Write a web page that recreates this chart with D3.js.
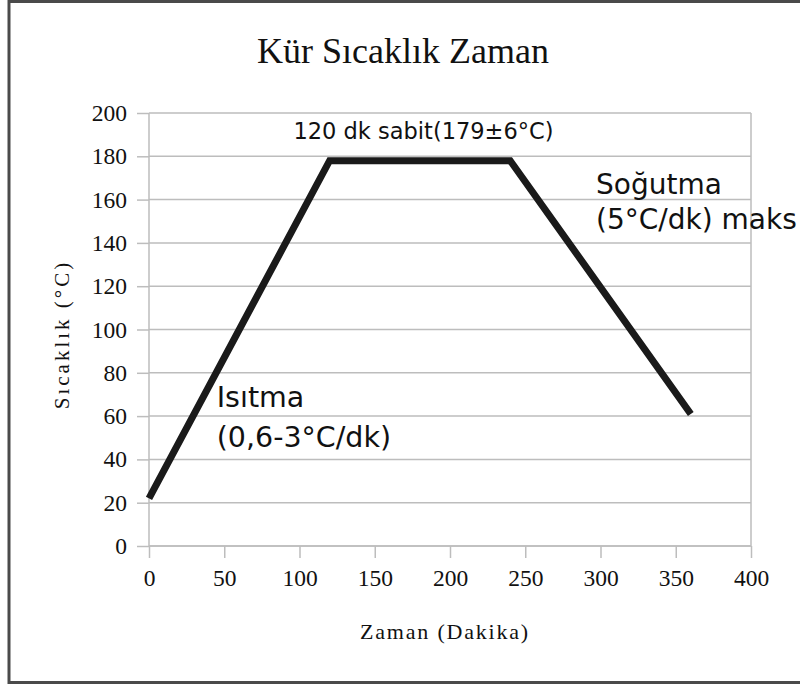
<!DOCTYPE html>
<html>
<head>
<meta charset="utf-8">
<script src="https://cdn.jsdelivr.net/npm/d3@7"></script>
<style>
  html, body { margin: 0; padding: 0; background: #fff; }
  svg { display: block; }
</style>
</head>
<body>
<svg id="chart" width="800" height="686"></svg>
<script>
// Cure profile: time (minutes) vs temperature (°C)
const timeMin = [0, 120, 240, 360];
const tempC = [22, 178, 178, 61];
const xTicks = [0, 50, 100, 150, 200, 250, 300, 350, 400];
const yTicks = [0, 20, 40, 60, 80, 100, 120, 140, 160, 180, 200];

const titleText = "Kür Sıcaklık Zaman";
const xTitle = "Zaman (Dakika)";
const yTitle = "Sıcaklık (°C)";
const notes = [
  { lines: ["120 dk sabit(179±6°C)"], t: 96, v: 188, size: 22.5, gap: 0 },
  { lines: ["Soğutma", "(5°C/dk) maks"], t: 297, v: 162.5, size: 28, gap: 35 },
  { lines: ["Isıtma", "(0,6-3°C/dk)"], t: 45, v: 64, size: 28.5, gap: 40 }
];

const svg = d3.select("#chart");
const W = 800, H = 686;
const plot = { left: 149, right: 751, top: 113, bottom: 546 };

const x = d3.scaleLinear().domain([0, 400]).range([plot.left, plot.right]);
const y = d3.scaleLinear().domain([0, 200]).range([plot.bottom, plot.top]);

const serif = "'Liberation Serif', 'DejaVu Serif', serif";
const sans = "'DejaVu Sans', Verdana, sans-serif";

// outer frame
svg.append("rect")
  .attr("x", 9).attr("y", 1.5).attr("width", W + 10).attr("height", 681)
  .attr("fill", "#fff").attr("stroke", "#4a4a4a").attr("stroke-width", 3);

// title
svg.append("text")
  .attr("x", 403).attr("y", 63)
  .attr("text-anchor", "middle")
  .attr("font-family", serif).attr("font-size", 36)
  .attr("fill", "#111")
  .text(titleText);

// horizontal grid lines
svg.append("g")
  .selectAll("line")
  .data(yTicks)
  .join("line")
  .attr("x1", plot.left).attr("x2", plot.right)
  .attr("y1", d => y(d)).attr("y2", d => y(d))
  .attr("stroke", "#bdbdbd").attr("stroke-width", 1.5);

// right border of plot
svg.append("line")
  .attr("x1", plot.right).attr("x2", plot.right)
  .attr("y1", plot.top).attr("y2", plot.bottom)
  .attr("stroke", "#bdbdbd").attr("stroke-width", 1.5);

// y axis
const yAxis = svg.append("g")
  .attr("transform", `translate(${plot.left},0)`)
  .call(d3.axisLeft(y).tickValues(yTicks).tickSize(12).tickPadding(10));
// x axis
const xAxis = svg.append("g")
  .attr("transform", `translate(0,${plot.bottom})`)
  .call(d3.axisBottom(x).tickValues(xTicks).tickSize(12).tickPadding(11));

[yAxis, xAxis].forEach(g => {
  g.select(".domain").attr("stroke", "#bdbdbd").attr("stroke-width", 1.5);
  g.selectAll(".tick line").attr("stroke", "#bdbdbd").attr("stroke-width", 1.5);
  g.selectAll(".tick text")
    .attr("font-family", serif).attr("font-size", 23.5).attr("fill", "#111");
});
yAxis.select(".domain").attr("d", `M0,${plot.bottom}V${plot.top}`);
xAxis.select(".domain").attr("d", `M${plot.left},0H${plot.right}`);

// axis titles
svg.append("text")
  .attr("x", 445).attr("y", 639)
  .attr("text-anchor", "middle")
  .attr("font-family", serif).attr("font-size", 22).attr("fill", "#111")
  .attr("letter-spacing", 1.8)
  .text(xTitle);

svg.append("text")
  .attr("transform", `translate(69,${(plot.top + plot.bottom) / 2 + 5}) rotate(-90)`)
  .attr("text-anchor", "middle")
  .attr("font-family", serif).attr("font-size", 21).attr("fill", "#111")
  .attr("letter-spacing", 3)
  .text(yTitle);

// profile line
const line = d3.line().x((d, i) => x(timeMin[i])).y(d => y(d));
svg.append("path")
  .datum(tempC)
  .attr("d", line)
  .attr("fill", "none")
  .attr("stroke", "#1a1a1a").attr("stroke-width", 7)
  .attr("stroke-linejoin", "miter");

// annotations
notes.forEach(n => {
  const t = svg.append("text")
    .attr("font-family", sans).attr("font-size", n.size).attr("fill", "#111");
  n.lines.forEach((s, i) => {
    t.append("tspan")
      .attr("x", x(n.t)).attr("y", y(n.v) + i * n.gap)
      .text(s);
  });
});
</script>
</body>
</html>
